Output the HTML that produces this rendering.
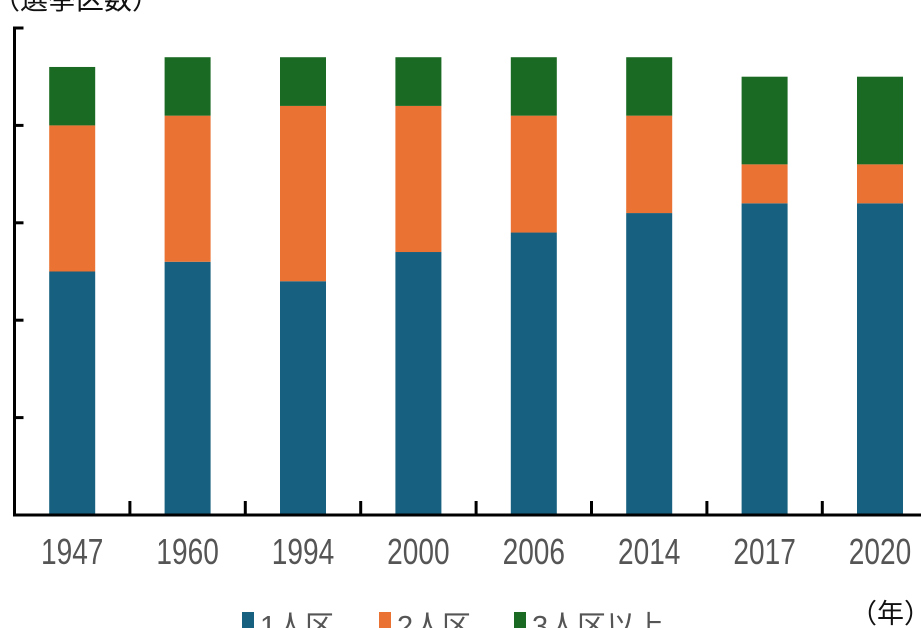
<!DOCTYPE html>
<html><head><meta charset="utf-8"><style>
html,body{margin:0;padding:0;background:#fff;overflow:hidden}
svg{display:block}
text{font-family:"Liberation Sans","Noto Sans CJK JP",sans-serif}
</style></head><body>
<svg id="c" width="921" height="628" xmlns="http://www.w3.org/2000/svg">
<text x="-8" y="9" font-size="28" fill="#111">（選挙区数）</text>
<g id="bars"></g>
<g id="axes"></g>
<g>
<rect x="242" y="612" width="12" height="16" fill="#17607f"/>
<text x="260" y="636" font-size="29" fill="#555">1人区</text>
<rect x="379" y="612" width="12" height="16" fill="#ea7232"/>
<text x="397" y="636" font-size="29" fill="#555">2人区</text>
<rect x="514" y="612" width="12" height="16" fill="#1a6a24"/>
<text x="532" y="636" font-size="29" fill="#555">3人区以上</text>
</g>
<text x="850" y="623" font-size="27" fill="#111">（年）</text>
</svg>
<script>
const categories=["1947","1960","1994","2000","2006","2014","2017","2020"];
const oneSeat=[25,26,24,27,29,31,32,32];
const twoSeat=[15,15,18,15,12,10,4,4];
const threePlus=[6,6,5,5,6,6,9,9];
const yTicks=[0,10,20,30,40,50];
const NS="http://www.w3.org/2000/svg";
const x0=14.5,band=115.4,yBase=515,yTop=28,yMax=50;
const x1=x0+band*categories.length;
const y=v=>yBase-(yBase-yTop)*v/yMax;
const xc=i=>x0+band*(i+0.5);
function mk(tag,attrs,parent){const e=document.createElementNS(NS,tag);for(const k in attrs)e.setAttribute(k,attrs[k]);parent.appendChild(e);return e;}
const bars=document.getElementById('bars'),axes=document.getElementById('axes');
const series=[[oneSeat,"#17607f","one-seat"],[twoSeat,"#ea7232","two-seat"],[threePlus,"#1a6a24","three-plus"]];
const bw=46;
categories.forEach((c,i)=>{
  let acc=0;
  series.forEach(([arr,col,nm])=>{
    const r=mk('rect',{x:xc(i)-bw/2,y:y(acc+arr[i]),width:bw,height:y(acc)-y(acc+arr[i]),fill:col},bars);
    
    
    acc+=arr[i];
  });
  const t=mk('text',{x:0,y:0,'font-size':36,fill:'#555','text-anchor':'middle',transform:'translate('+xc(i)+',564) scale(0.78,1)'},axes);
  t.textContent=c;
  
  
  if(i>0){const tk=mk('line',{x1:x0+band*i,x2:x0+band*i,y1:yBase,y2:yBase-14,stroke:'#000','stroke-width':3},axes);
    
    }
});
const ya=mk('line',{x1:x0,x2:x0,y1:yTop-1.5,y2:yBase+1.5,stroke:'#000','stroke-width':3},axes);


const xa=mk('line',{x1:x0-1.5,x2:x1,y1:yBase,y2:yBase,stroke:'#000','stroke-width':3},axes);


yTicks.forEach(v=>{
  const tk=mk('line',{x1:x0,x2:x0+9,y1:y(v),y2:y(v),stroke:'#000','stroke-width':3},axes);
  
  
});
</script>
</body></html>
